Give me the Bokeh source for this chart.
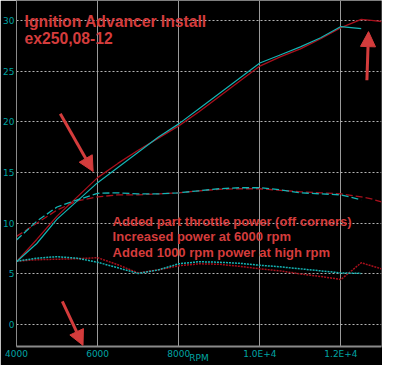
from bokeh.plotting import figure
from bokeh.models import Range1d, FixedTicker, Label, Arrow, NormalHead
from bokeh.embed import file_html
from bokeh.resources import INLINE

# ---- data ----
rpm_red = [4000, 4500, 5000, 5500, 6000, 6500, 7000, 7500, 8000, 8500, 9000,
           9500, 10000, 10500, 11000, 11500, 12000, 12500, 12750, 13000]
rpm_cyan = [4000, 4500, 5000, 5500, 6000, 6500, 7000, 7500, 8000, 8500, 9000,
            9500, 10000, 10500, 11000, 11500, 12000, 12500]

power_red = [6.2, 8.4, 10.7, 12.6, 14.5, 15.9, 17.2, 18.4, 19.6, 21.0, 22.5,
             24.0, 25.5, 26.4, 27.2, 28.2, 29.3, 30.1, 30.0, 29.9]
power_cyan = [6.2, 8.0, 10.4, 12.2, 14.0, 15.5, 17.0, 18.5, 19.8, 21.3, 22.8,
              24.3, 25.8, 26.6, 27.4, 28.3, 29.4, 29.2]

torque_red = [8.7, 10.0, 11.3, 12.2, 12.6, 12.8, 12.8, 12.9, 13.0, 13.2, 13.35,
              13.4, 13.4, 13.25, 13.1, 13.0, 12.9, 12.6, 12.4, 12.1]
torque_cyan = [8.35, 10.2, 11.6, 12.3, 12.95, 13.0, 12.9, 12.9, 13.0, 13.2, 13.4,
               13.5, 13.5, 13.3, 13.0, 12.9, 12.8, 12.3]

low_red = [6.25, 6.4, 6.45, 6.5, 6.6, 5.9, 5.1, 5.4, 5.8, 6.0, 5.95,
           5.75, 5.5, 5.3, 5.0, 4.75, 4.45, 6.1, 5.8, 5.5]
low_cyan = [6.25, 6.55, 6.7, 6.55, 6.15, 5.6, 5.05, 5.4, 6.0, 6.2, 6.15,
            6.05, 5.85, 5.7, 5.5, 5.3, 5.1, 5.05]

x_ticks = [4000, 6000, 8000, 10000, 12000]
x_labels = ["4000", "6000", "8000", "1.0E+4", "1.2E+4"]
y_ticks = [0, 5, 10, 15, 20, 25, 30]
y_labels = ["0", "5", "10", "15", "20", "25", "30"]

x_title = "RPM"
title_lines = ["Ignition Advancer Install", "ex250,08-12"]
notes = ["Added part throttle power (off corners)",
         "Increased power at 6000 rpm",
         "Added 1000 rpm power at high rpm"]

# arrows: (x_start, y_start, x_end, y_end) in data units
arrows = [(5080, 20.8, 5890, 15.1),
          (12640, 24.1, 12680, 28.9),
          (5130, 2.3, 5640, -2.05)]

RED = "#a8101c"
CYAN = "#14b4b4"
TXT = "#d43c3c"
TEAL = "#00a4a4"

Y0, Y1 = -2.16, 31.97

p = figure(width=382, height=365, output_backend="svg", toolbar_location=None,
           x_range=Range1d(4000, 13000), y_range=Range1d(Y0, Y1),
           background_fill_color="black", border_fill_color="black",
           min_border_left=0, min_border_right=1, min_border_top=0,
           min_border_bottom=0, x_axis_label=x_title)
p.outline_line_color = None

# axes
p.xaxis.ticker = FixedTicker(ticks=x_ticks)
p.xaxis.major_label_overrides = dict(zip(x_ticks, x_labels))
p.yaxis.ticker = FixedTicker(ticks=y_ticks)
p.yaxis.major_label_overrides = dict(zip(y_ticks, y_labels))
for ax in (p.xaxis[0], p.yaxis[0]):
    ax.major_tick_line_color = None
    ax.minor_tick_line_color = None
    ax.major_tick_out = 0
    ax.major_tick_in = 0
    ax.minor_tick_out = 0
    ax.minor_tick_in = 0
    ax.major_label_text_color = TEAL
    ax.major_label_text_font = "DejaVu Sans"
    ax.major_label_text_font_size = "9px"
    ax.major_label_standoff = 2
    ax.axis_line_color = "#8a8a8a"
p.xaxis.axis_line_width = 2
p.xaxis.axis_label_text_color = TEAL
p.xaxis.axis_label_text_font = "DejaVu Sans"
p.xaxis.axis_label_text_font_size = "9px"
p.xaxis.axis_label_text_font_style = "normal"
p.xaxis.axis_label_standoff = -9

# grids
p.xgrid.ticker = FixedTicker(ticks=x_ticks)
p.xgrid.grid_line_color = "#9a9a9a"
p.xgrid.grid_line_width = 1
p.ygrid.ticker = FixedTicker(ticks=y_ticks)
p.ygrid.grid_line_color = "#b4b4b4"
p.ygrid.grid_line_dash = "2 2"

# curves
p.line(rpm_red, power_red, line_color=RED, line_width=1.3)
p.line(rpm_red, torque_red, line_color=RED, line_width=1.3, line_dash="7 3")
p.line(rpm_red, low_red, line_color=RED, line_width=1.5, line_dash="2 1")
p.line(rpm_cyan, power_cyan, line_color=CYAN, line_width=1.2)
p.line(rpm_cyan, torque_cyan, line_color=CYAN, line_width=1.3, line_dash="7 3")
p.line(rpm_cyan, low_cyan, line_color=CYAN, line_width=1.5, line_dash="2 1")

# texts
for txt, yv in zip(title_lines, [29.9, 28.25]):
    p.add_layout(Label(x=4200, y=yv, text=txt, text_color=TXT,
                       text_font="Liberation Sans", text_font_style="bold",
                       text_font_size="15.7px", text_baseline="alphabetic"))
for txt, yv in zip(notes, [10.2, 8.65, 7.08]):
    p.add_layout(Label(x=6370, y=yv, text=txt, text_color=TXT,
                       text_font="Liberation Sans", text_font_style="bold",
                       text_font_size="13px", text_baseline="alphabetic"))

for xs, ys, xe, ye in arrows:
    p.add_layout(Arrow(end=NormalHead(size=15, fill_color=TXT, line_color=TXT),
                       x_start=xs, y_start=ys, x_end=xe, y_end=ye,
                       line_color=TXT, line_width=3))

open("out.html", "w").write(file_html(p, INLINE))
